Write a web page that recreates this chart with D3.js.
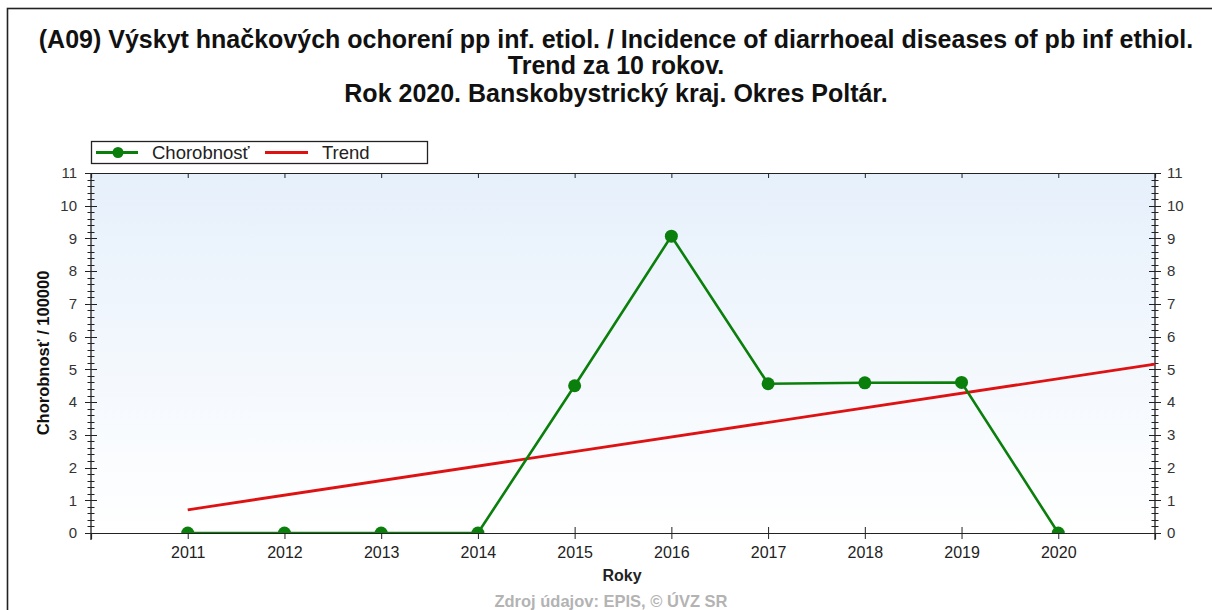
<!DOCTYPE html>
<html>
<head>
<meta charset="utf-8">
<script src="https://cdn.jsdelivr.net/npm/d3@7"></script>
<style>
  html, body { margin: 0; padding: 0; background: #fff; }
  svg { display: block; font-family: "Liberation Sans", Arial, sans-serif; }
</style>
</head>
<body>
<svg id="chart" width="1212" height="610"></svg>
<script>
// Incidence per 100 000 population, Okres Poltár
const years = [2011, 2012, 2013, 2014, 2015, 2016, 2017, 2018, 2019, 2020];
const incidence = [0, 0, 0, 0, 4.5, 9.07, 4.56, 4.59, 4.6, 0];
// Linear trend, given by its two end points
const trendYears = [2011, 2021];
const trendValues = [0.71, 5.16];
const yTicks = [0, 1, 2, 3, 4, 5, 6, 7, 8, 9, 10, 11];
const titleLines = [
  "(A09) Výskyt hnačkových ochorení pp inf. etiol. / Incidence of diarrhoeal diseases of pb inf ethiol.",
  "Trend za 10 rokov.",
  "Rok 2020. Banskobystrický kraj. Okres Poltár."
];

const svg = d3.select("#chart");
const W = 1212, H = 610;
const plot = { left: 91, right: 1155, top: 173, bottom: 533 };
const GREEN = "#0b7f0b", RED = "#de1212", INK = "#222";

const x = d3.scaleLinear().domain([2010, 2021]).range([plot.left, plot.right]);
const y = d3.scaleLinear().domain([0, 11]).range([plot.bottom, plot.top]);

// outer frame
svg.append("rect")
  .attr("x", 7.5).attr("y", 8.5).attr("width", W + 10).attr("height", H + 10)
  .attr("fill", "none").attr("stroke", INK).attr("stroke-width", 1.6);

// titles
const titleY = [48, 74, 102];
titleLines.forEach((t, i) => {
  svg.append("text")
    .attr("x", 616).attr("y", titleY[i])
    .attr("text-anchor", "middle")
    .attr("font-size", 25).attr("font-weight", "bold").attr("fill", "#111")
    .text(t);
});

// plot background gradient
const defs = svg.append("defs");
const grad = defs.append("linearGradient").attr("id", "bg").attr("x1", 0).attr("y1", 0).attr("x2", 0).attr("y2", 1);
grad.append("stop").attr("offset", "0%").attr("stop-color", "#e6f0fb");
grad.append("stop").attr("offset", "100%").attr("stop-color", "#ffffff");
svg.append("rect")
  .attr("x", plot.left).attr("y", plot.top)
  .attr("width", plot.right - plot.left).attr("height", plot.bottom - plot.top)
  .attr("fill", "url(#bg)");

// top border line with inward ticks
const gTop = svg.append("g").attr("transform", `translate(0,${plot.top})`);
gTop.call(d3.axisBottom(x).tickValues(years).tickSize(5).tickFormat(""));
gTop.select(".domain").attr("stroke", INK).attr("stroke-width", 1.2);
gTop.selectAll(".tick line").attr("stroke", INK);

// bottom axis: ticks cross the line
const gBottom = svg.append("g").attr("transform", `translate(0,${plot.bottom})`);
gBottom.call(d3.axisBottom(x).tickValues(years).tickSize(6).tickPadding(8).tickFormat(d3.format("d")));
gBottom.select(".domain").attr("stroke", INK).attr("stroke-width", 1.2);
gBottom.selectAll(".tick line").attr("y1", -6).attr("y2", 6).attr("stroke", INK);
gBottom.selectAll(".tick text").attr("font-size", 16).attr("fill", INK)
  .attr("font-family", "Liberation Sans, Arial, sans-serif");

// vertical axes with major and minor ticks
const minor = d3.range(0, 11.001, 0.2).filter(v => Math.abs(v - Math.round(v)) > 1e-6);
function vAxis(xPos, side) {
  const g = svg.append("g");
  g.append("line").attr("x1", xPos).attr("x2", xPos)
    .attr("y1", plot.top).attr("y2", plot.bottom + 7).attr("stroke", INK).attr("stroke-width", 1.3);
  g.selectAll(".minor").data(minor).join("line")
    .attr("x1", xPos - 3.5).attr("x2", xPos + 3.5)
    .attr("y1", d => Math.round(y(d)) + 0.5).attr("y2", d => Math.round(y(d)) + 0.5)
    .attr("stroke", INK);
  g.selectAll(".major").data(yTicks).join("line")
    .attr("x1", xPos - 6).attr("x2", xPos + 6)
    .attr("y1", d => Math.round(y(d)) + 0.5).attr("y2", d => Math.round(y(d)) + 0.5)
    .attr("stroke", INK);
  g.selectAll("text").data(yTicks).join("text")
    .attr("x", side === "left" ? xPos - 14 : xPos + 12)
    .attr("y", d => y(d))
    .attr("dy", "0.35em")
    .attr("text-anchor", side === "left" ? "end" : "start")
    .attr("font-size", 15).attr("fill", "#333")
    .text(d => d);
}
vAxis(plot.left, "left");
vAxis(plot.right, "right");
// top border continues past the left axis
svg.append("line").attr("x1", plot.left - 6).attr("x2", plot.left).attr("y1", plot.top + 0.5).attr("y2", plot.top + 0.5).attr("stroke", INK);

// axis titles
svg.append("text")
  .attr("transform", `translate(49,${(plot.top + plot.bottom) / 2}) rotate(-90)`)
  .attr("text-anchor", "middle").attr("font-size", 16.5).attr("font-weight", "bold").attr("fill", "#111")
  .text("Chorobnosť / 100000");
svg.append("text")
  .attr("x", 622).attr("y", 581)
  .attr("text-anchor", "middle").attr("font-size", 16).attr("font-weight", "bold").attr("fill", INK)
  .text("Roky");

// footer
svg.append("text")
  .attr("x", 611).attr("y", 607)
  .attr("text-anchor", "middle").attr("font-size", 16.5).attr("font-weight", "bold").attr("fill", "#b3b3b3")
  .text("Zdroj údajov: EPIS, © ÚVZ SR");

// trend line
svg.append("path")
  .datum(trendYears.map((yr, i) => [yr, trendValues[i]]))
  .attr("fill", "none").attr("stroke", RED).attr("stroke-width", 2.8)
  .attr("d", d3.line().x(d => x(d[0])).y(d => y(d[1])));

// incidence series
const clip = defs.append("clipPath").attr("id", "plotClip");
clip.append("rect").attr("x", plot.left).attr("y", plot.top - 10)
  .attr("width", plot.right - plot.left).attr("height", plot.bottom - plot.top + 10);
const series = years.map((yr, i) => [yr, incidence[i]]);
const gS = svg.append("g").attr("clip-path", "url(#plotClip)");
gS.append("path")
  .datum(series)
  .attr("fill", "none").attr("stroke", GREEN).attr("stroke-width", 2.6)
  .attr("d", d3.line().x(d => x(d[0])).y(d => y(d[1])));
gS.selectAll("circle").data(series).join("circle")
  .attr("cx", d => x(d[0])).attr("cy", d => y(d[1])).attr("r", 6.5)
  .attr("fill", GREEN);

// legend
const lg = svg.append("g");
lg.append("rect").attr("x", 91.5).attr("y", 141.5).attr("width", 336).attr("height", 22)
  .attr("fill", "#fff").attr("stroke", INK).attr("stroke-width", 1.3);
lg.append("line").attr("x1", 96).attr("x2", 138).attr("y1", 152.5).attr("y2", 152.5)
  .attr("stroke", GREEN).attr("stroke-width", 2.8);
lg.append("circle").attr("cx", 118).attr("cy", 152.5).attr("r", 5.5).attr("fill", GREEN);
lg.append("text").attr("x", 152).attr("y", 159).attr("font-size", 18.5).attr("fill", INK).text("Chorobnosť");
lg.append("line").attr("x1", 265).attr("x2", 308).attr("y1", 152.5).attr("y2", 152.5)
  .attr("stroke", RED).attr("stroke-width", 2.8);
lg.append("text").attr("x", 322).attr("y", 159).attr("font-size", 18.5).attr("fill", INK).text("Trend");
</script>
</body>
</html>
